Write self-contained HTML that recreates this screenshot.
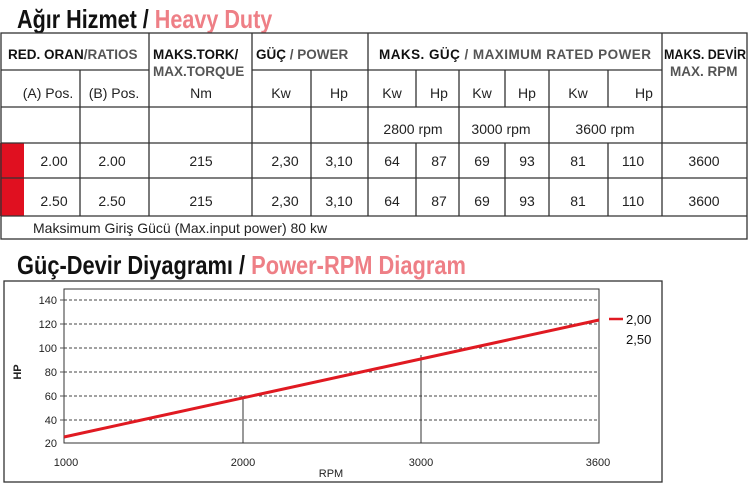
<!DOCTYPE html>
<html><head><meta charset="utf-8"><style>
html,body{margin:0;padding:0;background:#fff;}
svg{display:block;font-family:"Liberation Sans",sans-serif;}
</style></head><body>
<svg width="750" height="491" viewBox="0 0 750 491" xmlns="http://www.w3.org/2000/svg">
<!-- titles -->
<g font-weight="bold" font-size="26" transform="translate(17,28) scale(0.83,1)">
<text x="0" y="0" fill="#111">Ağır Hizmet / <tspan fill="#ee7f86">Heavy Duty</tspan></text>
</g>
<g font-weight="bold" font-size="26" transform="translate(17,274) scale(0.84,1)">
<text x="0" y="0" fill="#111">Güç-Devir Diyagramı / <tspan fill="#ee7f86">Power-RPM Diagram</tspan></text>
</g>
<!-- table -->
<rect x="0" y="143" width="24" height="73" fill="#e01020"/>
<g stroke="#333" stroke-width="1.3" fill="none">
<rect x="1" y="33" width="746" height="206"/>
<line x1="1" y1="70" x2="149" y2="70"/><line x1="252" y1="70" x2="662" y2="70"/>
<line x1="1" y1="107" x2="747" y2="107"/>
<line x1="1" y1="143" x2="747" y2="143"/>
<line x1="1" y1="178" x2="747" y2="178"/>
<line x1="1" y1="216" x2="747" y2="216"/>
<line x1="80" y1="70" x2="80" y2="216"/>
<line x1="149" y1="33" x2="149" y2="216"/>
<line x1="252" y1="33" x2="252" y2="216"/>
<line x1="311" y1="70" x2="311" y2="216"/>
<line x1="368" y1="33" x2="368" y2="216"/>
<line x1="416" y1="70" x2="416" y2="107"/><line x1="416" y1="143" x2="416" y2="216"/>
<line x1="459" y1="70" x2="459" y2="216"/>
<line x1="505" y1="70" x2="505" y2="107"/><line x1="505" y1="143" x2="505" y2="216"/>
<line x1="549" y1="70" x2="549" y2="216"/>
<line x1="608" y1="70" x2="608" y2="107"/><line x1="608" y1="143" x2="608" y2="216"/>
<line x1="662" y1="33" x2="662" y2="216"/>
</g>
<g font-size="13.5" font-weight="bold" fill="#111">
<text x="8" y="59">RED. ORAN<tspan fill="#555">/RATIOS</tspan></text>
<text x="153" y="59">MAKS.TORK/</text>
<text x="153" y="76" fill="#555">MAX.TORQUE</text>
<text x="256" y="59">GÜÇ <tspan fill="#555">/ POWER</tspan></text>
<text x="379" y="59" textLength="272">MAKS.  GÜÇ <tspan fill="#555">/ MAXIMUM RATED POWER</tspan></text>
<text x="664" y="59" textLength="82" lengthAdjust="spacingAndGlyphs">MAKS. DEVİR</text>
<text x="670" y="76" fill="#555">MAX. RPM</text>
</g>
<g font-size="14" fill="#222" text-anchor="middle">
<text x="48" y="98">(A) Pos.</text><text x="114" y="98">(B) Pos.</text><text x="201" y="98">Nm</text>
<text x="281" y="98">Kw</text><text x="339" y="98">Hp</text>
<text x="392" y="98">Kw</text><text x="439" y="98">Hp</text><text x="482" y="98">Kw</text><text x="527" y="98">Hp</text><text x="578" y="98">Kw</text><text x="644" y="98">Hp</text>
<text x="413" y="134">2800 rpm</text><text x="501" y="134">3000 rpm</text><text x="605" y="134">3600 rpm</text>
<text x="54" y="166">2.00</text><text x="112" y="166">2.00</text><text x="201" y="166">215</text><text x="285" y="166">2,30</text><text x="339" y="166">3,10</text>
<text x="392" y="166">64</text><text x="439" y="166">87</text><text x="482" y="166">69</text><text x="527" y="166">93</text><text x="578" y="166">81</text><text x="633" y="166">110</text><text x="704" y="166">3600</text>
<text x="54" y="206">2.50</text><text x="112" y="206">2.50</text><text x="201" y="206">215</text><text x="285" y="206">2,30</text><text x="339" y="206">3,10</text>
<text x="392" y="206">64</text><text x="439" y="206">87</text><text x="482" y="206">69</text><text x="527" y="206">93</text><text x="578" y="206">81</text><text x="633" y="206">110</text><text x="704" y="206">3600</text>
<text x="33" y="233" text-anchor="start">Maksimum Giriş Gücü (Max.input power) 80 kw</text>
</g>
<!-- chart -->
<rect x="4" y="281" width="658" height="201" fill="none" stroke="#333" stroke-width="1.3"/>
<g stroke="#444" stroke-width="1" stroke-dasharray="3,2">
<line x1="64" y1="300" x2="599" y2="300"/><line x1="64" y1="324" x2="599" y2="324"/>
<line x1="64" y1="348" x2="599" y2="348"/><line x1="64" y1="372" x2="599" y2="372"/>
<line x1="64" y1="396" x2="599" y2="396"/><line x1="64" y1="420" x2="599" y2="420"/>
</g>
<g stroke="#333" stroke-width="1" fill="none">
<rect x="64" y="289" width="535" height="154"/>
<line x1="243" y1="396" x2="243" y2="443"/><line x1="421" y1="355" x2="421" y2="443"/>
</g>
<g stroke="#555" stroke-width="1"><line x1="60" y1="300" x2="64" y2="300"/><line x1="60" y1="324" x2="64" y2="324"/><line x1="60" y1="348" x2="64" y2="348"/><line x1="60" y1="372" x2="64" y2="372"/><line x1="60" y1="396" x2="64" y2="396"/><line x1="60" y1="420" x2="64" y2="420"/></g>
<line x1="64" y1="437" x2="599" y2="320" stroke="#e01a22" stroke-width="3"/>
<line x1="609" y1="319" x2="623" y2="319" stroke="#e01a22" stroke-width="2.5"/>
<g font-size="11" fill="#222" text-anchor="end">
<text x="57" y="304">140</text><text x="57" y="328">120</text><text x="57" y="352">100</text><text x="57" y="376">80</text><text x="57" y="400">60</text><text x="57" y="424">40</text><text x="57" y="447">20</text>
</g>
<g font-size="11" fill="#222" text-anchor="middle">
<text x="66" y="466">1000</text><text x="243" y="466">2000</text><text x="421" y="466">3000</text><text x="598" y="466">3600</text>
<text x="331" y="477">RPM</text>
</g>
<text transform="translate(21,372) rotate(-90)" font-size="11" font-weight="bold" text-anchor="middle" fill="#222">HP</text>
<g font-size="13" fill="#111"><text x="626" y="324">2,00</text><text x="626" y="344">2,50</text></g>
</svg>
</body></html>
